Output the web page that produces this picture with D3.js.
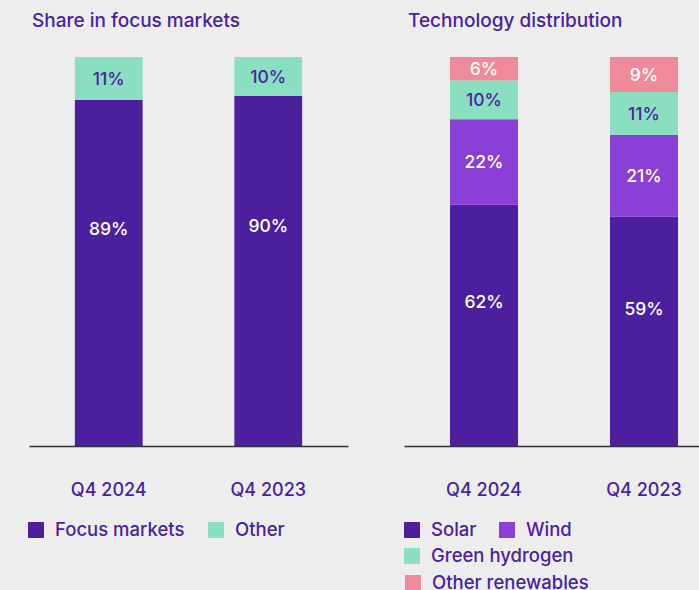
<!DOCTYPE html>
<html>
<head>
<meta charset="utf-8">
<script src="https://cdn.jsdelivr.net/npm/d3@7"></script>
<style>
  html, body { margin: 0; padding: 0; background: #ededed; }
  svg { display: block; font-family: Inter, "Open Sans", sans-serif; }
</style>
</head>
<body>
<svg id="chart" width="699" height="590"></svg>
<script>
// Quarters shown in both panels
const quarters = ["Q4 2024", "Q4 2023"];

// Share in focus markets (%)
const focusMarkets = [89, 90];
const otherMarkets = [11, 10];

// Technology distribution (%)
const solar = [62, 59];
const wind = [22, 21];
const greenHydrogen = [10, 11];
const otherRenewables = [6, 9];

const textColor = "#4a22a0";
const colors = {
  focus: "#4c1f9e",
  other: "#89dfc0",
  solar: "#4c1f9e",
  wind: "#8a40d6",
  hydrogen: "#89dfc0",
  renewables: "#ee8a99"
};

const svg = d3.select("#chart");
const y = d3.scaleLinear().domain([0, 100]).range([446, 57]);

function drawPanel(opts) {
  const g = svg.append("g");
  const x = d3.scaleBand()
    .domain(quarters)
    .range(opts.range)
    .paddingInner(0.575)
    .paddingOuter(0.2875);

  g.append("text")
    .attr("x", opts.titleX)
    .attr("y", 27)
    .attr("fill", textColor)
    .attr("font-size", 19)
    .attr("font-weight", 500)
    .text(opts.title);

  const rows = quarters.map((q, i) => {
    const r = { quarter: q };
    opts.series.forEach(s => { r[s.key] = s.values[i]; });
    return r;
  });
  const stacked = d3.stack().keys(opts.series.map(s => s.key))(rows);

  stacked.forEach((layer, li) => {
    const s = opts.series[li];
    // the tall base segment carries its label somewhat above its middle
    const at = s.labelAt != null ? s.labelAt : 0.5;
    const lg = g.append("g");
    lg.selectAll("rect")
      .data(layer)
      .join("rect")
      .attr("x", d => x(d.data.quarter))
      .attr("width", x.bandwidth())
      .attr("y", d => y(d[1]))
      .attr("height", d => y(d[0]) - y(d[1]))
      .attr("fill", s.color);
    lg.selectAll("text")
      .data(layer)
      .join("text")
      .attr("x", d => x(d.data.quarter) + x.bandwidth() / 2)
      .attr("y", d => y(d[0] + (d[1] - d[0]) * at))
      .attr("dy", "0.36em")
      .attr("text-anchor", "middle")
      .attr("font-size", 17.5)
      .attr("font-weight", 500)
      .attr("fill", s.labelColor)
      .text(d => (d[1] - d[0]) + "%");
  });

  const axis = g.append("g")
    .attr("transform", "translate(0,446)")
    .call(d3.axisBottom(x).tickSize(0).tickSizeOuter(0));
  axis.select(".domain").attr("stroke", "#333").attr("stroke-width", 1.5);
  axis.selectAll(".tick text")
    .attr("dy", null)
    .attr("y", 49.5)
    .attr("fill", textColor)
    .attr("font-size", 18)
    .attr("font-weight", 500)
    .attr("font-family", "Inter, 'Open Sans', sans-serif");

  const leg = g.append("g");
  opts.legend.forEach(item => {
    leg.append("rect")
      .attr("x", item.x).attr("y", item.y)
      .attr("width", 16).attr("height", 16)
      .attr("fill", item.color);
    leg.append("text")
      .attr("x", item.x + 27).attr("y", item.y + 14)
      .attr("fill", textColor)
      .attr("font-size", 18.5)
      .attr("font-weight", 500)
      .text(item.label);
  });
}

drawPanel({
  title: "Share in focus markets",
  titleX: 32,
  range: [29, 348],
  series: [
    { key: "focus", values: focusMarkets, color: colors.focus, labelColor: "#ffffff", labelAt: 0.628 },
    { key: "other", values: otherMarkets, color: colors.other, labelColor: textColor }
  ],
  legend: [
    { label: "Focus markets", color: colors.focus, x: 28, y: 522 },
    { label: "Other", color: colors.other, x: 208, y: 522 }
  ]
});

drawPanel({
  title: "Technology distribution",
  titleX: 408,
  range: [404, 724],
  series: [
    { key: "solar", values: solar, color: colors.solar, labelColor: "#ffffff", labelAt: 0.6 },
    { key: "wind", values: wind, color: colors.wind, labelColor: "#ffffff" },
    { key: "hydrogen", values: greenHydrogen, color: colors.hydrogen, labelColor: textColor },
    { key: "renewables", values: otherRenewables, color: colors.renewables, labelColor: "#ffffff" }
  ],
  legend: [
    { label: "Solar", color: colors.solar, x: 404, y: 522 },
    { label: "Wind", color: colors.wind, x: 499, y: 522 },
    { label: "Green hydrogen", color: colors.hydrogen, x: 404, y: 548 },
    { label: "Other renewables", color: colors.renewables, x: 405, y: 575 }
  ]
});
</script>
</body>
</html>
